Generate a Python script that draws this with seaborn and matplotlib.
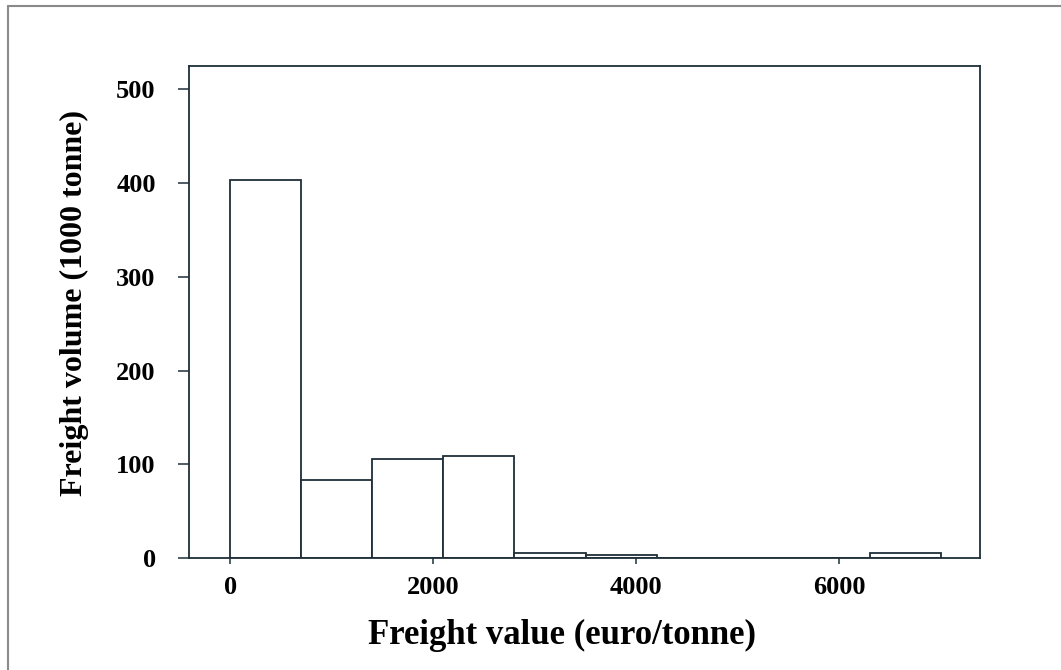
import matplotlib
matplotlib.use("Agg")
import matplotlib.pyplot as plt
from matplotlib.lines import Line2D
import seaborn as sns
import numpy as np

# Data
bin_edges = [0, 700, 1400, 2100, 2800, 3500, 4200, 4900, 5600, 6300, 7000]
volumes = [403, 83, 106, 109, 5, 3, 0, 0, 0, 5]
x_ticks = [0, 2000, 4000, 6000]
y_ticks = [0, 100, 200, 300, 400, 500]

centers = [(a + b) / 2 for a, b in zip(bin_edges[:-1], bin_edges[1:])]

sns.set_theme(style="white")
plt.rcParams["font.family"] = ["Liberation Serif", "DejaVu Serif"]
plt.rcParams["font.weight"] = "bold"

W, H = 1061, 670
fig = plt.figure(figsize=(W / 100, H / 100), dpi=100)
ax = fig.add_axes([189 / W, 1 - 558 / H, (980 - 189) / W, (558 - 66) / H])

edge = "#1f2f38"
sns.histplot(x=centers, weights=volumes, bins=bin_edges, ax=ax,
             color="white", edgecolor=edge, linewidth=1.3, alpha=1)

ax.set_xlim(-405, 7385)
ax.set_ylim(0, 525)
ax.set_xticks(x_ticks)
ax.set_yticks(y_ticks)
ax.tick_params(axis="y", left=True, direction="out", length=8, width=1.1,
               color=edge, labelsize=19, pad=16, labelcolor="black")
ax.tick_params(axis="x", bottom=True, direction="out", length=4, width=1.1,
               color=edge, labelsize=19, pad=9, labelcolor="black")
for lab in ax.get_xticklabels() + ax.get_yticklabels():
    lab.set_fontweight("bold")
for s in ax.spines.values():
    s.set_color(edge)
    s.set_linewidth(1.3)

ax.set_xlabel("Freight value (euro/tonne)", fontsize=25, fontweight="bold",
              color="black")
ax.set_ylabel("Freight volume (1000 tonne)", fontsize=23, fontweight="bold",
              color="black")
ax.xaxis.set_label_coords((562 - 189) / 791, (558 - 619) / 492)
ax.yaxis.set_label_coords((89 - 189) / 791, (558 - 303.5) / 492)

# outer frame lines (left and top)
fig.add_artist(Line2D([8 / W, 8 / W], [0, 1 - 6 / H], transform=fig.transFigure,
                      color="#8a8a8a", linewidth=1.5))
fig.add_artist(Line2D([8 / W, 1], [1 - 6 / H, 1 - 6 / H], transform=fig.transFigure,
                      color="#8a8a8a", linewidth=1.5))

fig.savefig("out.png", dpi=100, facecolor="white")
